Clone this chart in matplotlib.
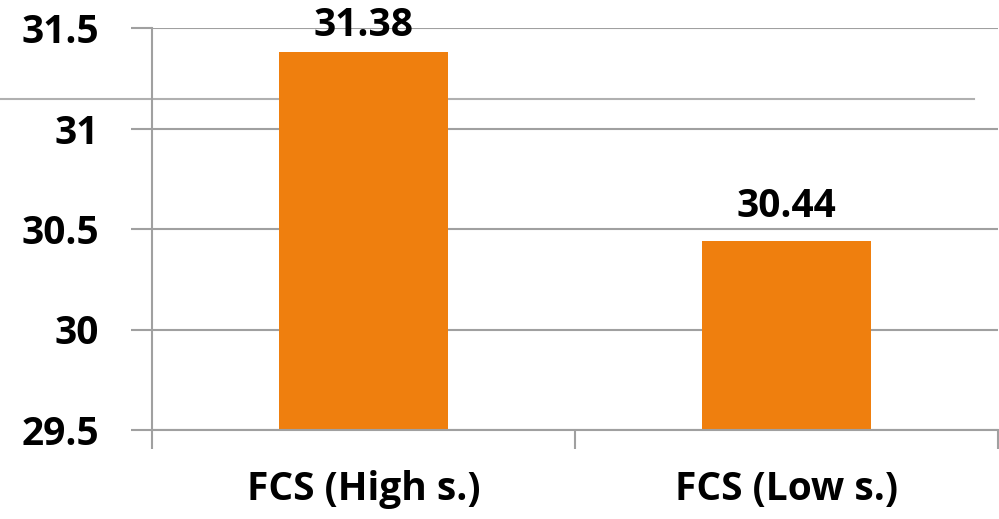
import matplotlib
matplotlib.use("Agg")
import matplotlib.pyplot as plt
from matplotlib.lines import Line2D

categories = ["FCS (High s.)", "FCS (Low s.)"]
values = [31.38, 30.44]
value_labels = ["31.38", "30.44"]
yticks = [29.5, 30, 30.5, 31, 31.5]
ytick_labels = ["29.5", "30", "30.5", "31", "31.5"]

plt.rcParams['font.family'] = ['Open Sans', 'DejaVu Sans']
W, H = 999, 519
fig = plt.figure(figsize=(W/100, H/100), dpi=100)
ax = fig.add_axes([152/W, 1-430/H, (998-152)/W, (430-28)/H])
ax.set_facecolor('none')

grid_c = '#a0a0a0'
fs = 28
x = list(range(len(categories)))
bars = ax.bar(x, values, width=0.4, bottom=0, color='#ef7f0e', zorder=2)
ax.set_ylim(29.5, 31.5)
ax.set_xlim(-0.5, 1.5)
ax.set_yticks(yticks)
ax.set_yticklabels(ytick_labels, fontsize=fs, fontweight='bold')
ax.set_xticks([-0.5, 0.5, 1.5])
ax.set_xticklabels([])
ax.set_xticks(x, minor=True)
ax.set_xticklabels(categories, minor=True, fontsize=fs, fontweight='bold')
ax.tick_params(axis='x', which='minor', length=0, pad=29)
ax.tick_params(axis='x', which='major', length=14, width=1.5, color=grid_c)
ax.tick_params(axis='y', length=15, width=1.5, color=grid_c, pad=23)
ax.grid(axis='y', color=grid_c, linewidth=1.5, zorder=0)
ax.set_axisbelow(True)
for s in ['top', 'right']:
    ax.spines[s].set_visible(False)
for s in ['left', 'bottom']:
    ax.spines[s].set_color(grid_c)
    ax.spines[s].set_linewidth(1.5)

offsets = [11.5, 17.3]
for xi, v, lab, off in zip(x, values, value_labels, offsets):
    ax.annotate(lab, (xi, v), xytext=(0, off), textcoords='offset points',
                ha='center', va='baseline', fontsize=fs, fontweight='bold',
                zorder=5, annotation_clip=False)

# stray horizontal line behind the bars
ax.add_line(Line2D([0, 974/W], [1-98.5/H, 1-98.5/H], transform=fig.transFigure,
                   color='#b0b0b0', linewidth=1.5, zorder=1, clip_on=False))

fig.savefig('out.png', dpi=100)
